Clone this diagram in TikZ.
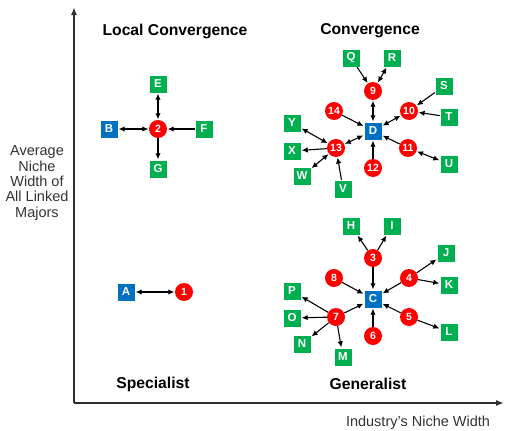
\documentclass[tikz,border=0pt]{standalone}
\usepackage{fontspec}
\setmainfont{Liberation Sans}
\usetikzlibrary{arrows.meta}
\definecolor{gbox}{HTML}{00B050}
\definecolor{bbox}{HTML}{0070C0}
\definecolor{rdot}{HTML}{FF0000}
\definecolor{axisc}{HTML}{303030}
\tikzset{
  gsq/.style={rectangle,fill=gbox,draw=white,line width=0.4pt,minimum width=18pt,minimum height=18pt,inner sep=0pt,text=white,font=\fontsize{11.5}{12}\selectfont\bfseries},
  bsq/.style={gsq,fill=bbox},
  rc/.style={circle,fill=rdot,minimum size=18pt,inner sep=0pt,text=white,font=\fontsize{10.5}{12}\selectfont\bfseries},
  ar/.style={draw=black,line width=1.1pt,-{Latex[length=6pt,width=5.5pt]},shorten >=0.5pt},
  br/.style={draw=black,line width=1.1pt,{Latex[length=6pt,width=5.5pt]}-{Latex[length=6pt,width=5.5pt]},shorten >=0.5pt,shorten <=0.5pt},
  quad/.style={font=\fontsize{15.7}{18}\selectfont\bfseries},
  lbl/.style={font=\fontsize{14.5}{15.3}\selectfont,text=black!80}
}
\begin{document}
\begin{tikzpicture}[x=1pt,y=-1pt]
\useasboundingbox (0,0) rectangle (506,431);
% axes
\coordinate (o) at (74,403);
\coordinate (ytop) at (74,7);
\coordinate (xend) at (504,403);
\draw[axisc,line width=1.6pt,-{Latex[length=8pt,width=6pt]}] (o) -- (ytop);
\draw[axisc,line width=1.6pt,-{Latex[length=8pt,width=6pt]}] (o) -- (xend);
% labels
\node[quad] (tlc) at (175,31) {Local Convergence};
\node[quad] (tc) at (370,31) {Convergence};
\node[quad] (ts) at (153,384) {Specialist};
\node[quad] (tg) at (368,384) {Generalist};
\node[lbl,align=center] (ylab) at (37,183) {Average\\Niche\\Width of\\All Linked\\Majors};
\node[lbl] (xlab) at (418,423) {Industry’s Niche Width};
% Convergence group
\node[gsq] (Q) at (351,58) {Q};
\node[gsq] (R) at (392,58) {R};
\node[rc] (n9) at (373,91) {9};
\node[gsq] (S) at (444,86) {S};
\node[rc] (n10) at (409,111) {10};
\node[gsq] (T) at (449,117) {T};
\node[rc] (n14) at (334,111) {14};
\node[bsq] (D) at (373,131) {D};
\node[gsq] (Y) at (292,123) {Y};
\node[rc] (n13) at (336,148) {13};
\node[gsq] (X) at (292,151) {X};
\node[rc] (n11) at (408,148) {11};
\node[gsq] (U) at (449,164) {U};
\node[rc] (n12) at (373,168) {12};
\node[gsq] (W) at (302,176) {W};
\node[gsq] (V) at (343,189) {V};
\draw[ar] (Q) -- (n9);
\draw[br] (R) -- (n9);
\draw[br] (n9) -- (D);
\draw[ar] (S) -- (n10);
\draw[ar] (T) -- (n10);
\draw[br] (n10) -- (D);
\draw[ar] (n14) -- (D);
\draw[ar] (n11) -- (D);
\draw[br] (n11) -- (U);
\draw[ar] (n12) -- (D);
\draw[br] (n13) -- (D);
\draw[br] (Y) -- (n13);
\draw[ar] (n13) -- (X);
\draw[br] (W) -- (n13);
\draw[ar] (V) -- (n13);
% Generalist group
\node[gsq] (H) at (351,226) {H};
\node[gsq] (I) at (392,226) {I};
\node[rc] (n3) at (373,258) {3};
\node[gsq] (J) at (446,253) {J};
\node[rc] (n8) at (334,278) {8};
\node[rc] (n4) at (409,278) {4};
\node[gsq] (K) at (449,285) {K};
\node[bsq] (C) at (373,299) {C};
\node[gsq] (P) at (292,291) {P};
\node[rc] (n7) at (336,317) {7};
\node[gsq] (O) at (292,318) {O};
\node[rc] (n5) at (409,317) {5};
\node[gsq] (L) at (449,332) {L};
\node[rc] (n6) at (373,336) {6};
\node[gsq] (N) at (302,344) {N};
\node[gsq] (M) at (343,357) {M};
\draw[ar] (n3) -- (H);
\draw[ar] (n3) -- (I);
\draw[ar] (n3) -- (C);
\draw[ar] (n4) -- (J);
\draw[ar] (n4) -- (K);
\draw[ar] (n4) -- (C);
\draw[ar] (n8) -- (C);
\draw[ar] (n5) -- (C);
\draw[ar] (n5) -- (L);
\draw[ar] (n6) -- (C);
\draw[ar] (n7) -- (C);
\draw[ar] (n7) -- (P);
\draw[ar] (n7) -- (O);
\draw[ar] (n7) -- (N);
\draw[ar] (n7) -- (M);
% Local convergence
\node[gsq] (E) at (158,84) {E};
\node[bsq] (B) at (109,129) {B};
\node[rc] (n2) at (158,129) {2};
\node[gsq] (F) at (204,129) {F};
\node[gsq] (G) at (158,169) {G};
\draw[br] (E) -- (n2);
\draw[br] (B) -- (n2);
\draw[ar] (F) -- (n2);
\draw[ar] (n2) -- (G);
% Specialist
\node[bsq] (A) at (126,292) {A};
\node[rc] (n1) at (184,292) {1};
\draw[br] (A) -- (n1);
\end{tikzpicture}
\end{document}
